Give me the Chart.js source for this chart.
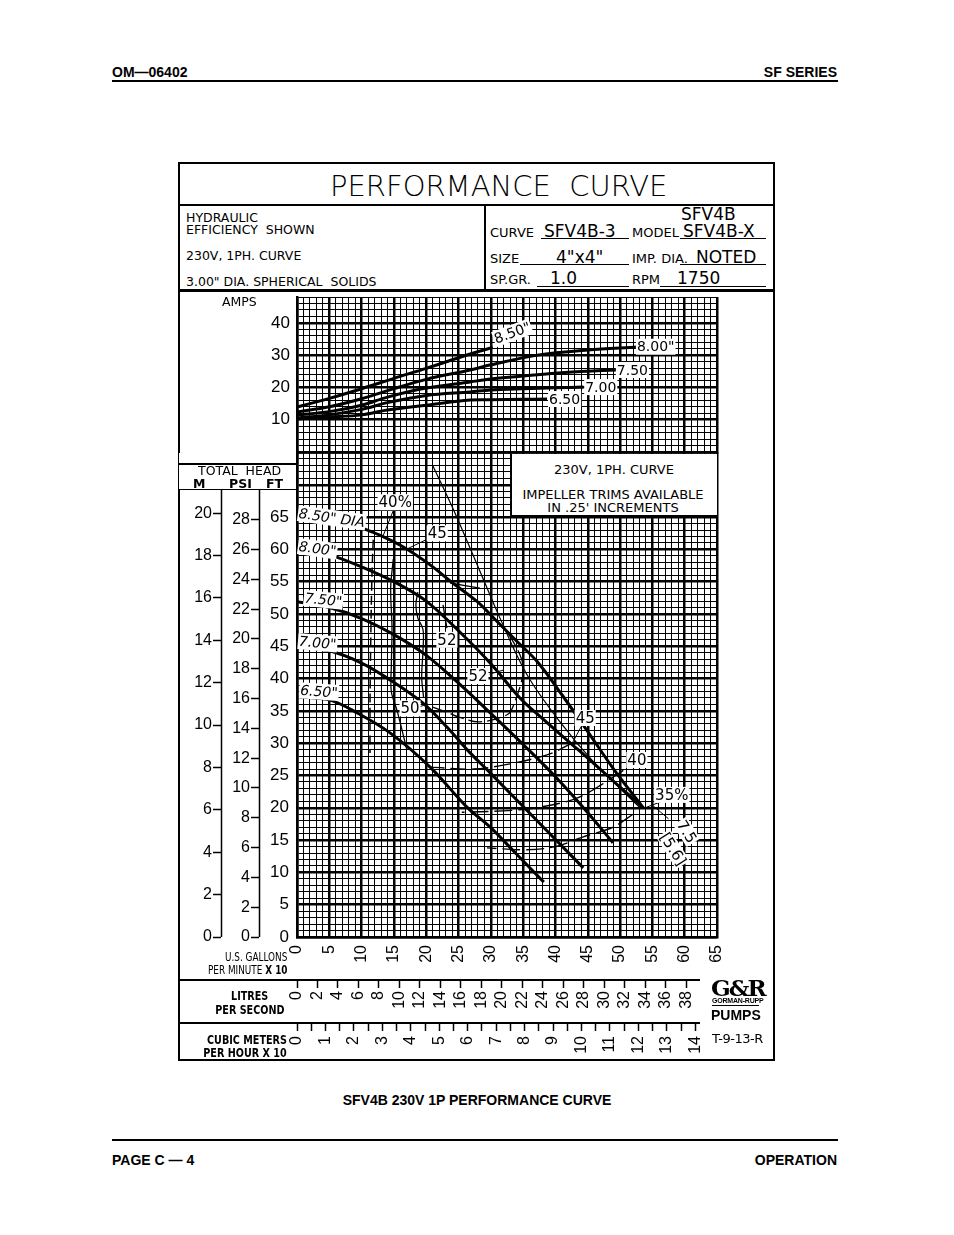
<!DOCTYPE html>
<html>
<head>
<meta charset="utf-8">
<title>SFV4B 230V 1P Performance Curve</title>
<script src="https://cdn.jsdelivr.net/npm/chart.js@4.4.1/dist/chart.umd.min.js"></script>
<style>
  body { margin: 0; width: 954px; height: 1235px; background: #fff; position: relative; overflow: hidden;
         font-family: "DejaVu Sans", sans-serif; color: #000; }
  .a { position: absolute; white-space: nowrap; line-height: 1; }
  .hd { font: bold 14px "Liberation Sans", Arial, sans-serif; }
  .ln { position: absolute; background: #000; }
  .s12 { font-size: 12.5px; }
  .s13 { font-size: 13px; }
  .v16 { font-size: 17px; }
  .nr { transform: scaleX(0.74); transform-origin: right center; }
  canvas { position: absolute; }
</style>
</head>
<body>

<div class="a hd" style="left:112px;top:64px">OM—06402</div>
<div class="a hd" style="right:117px;top:64px">SF SERIES</div>
<div class="ln" style="left:112px;top:80px;width:726px;height:2px"></div>

<!-- outer box -->
<div style="position:absolute;left:178px;top:162px;width:597px;height:899px;border:2px solid #000;box-sizing:border-box"></div>
<div class="a" style="left:330px;top:172px;font-size:29px;font-weight:200">PERFORMANCE&nbsp; CURVE</div>
<div class="ln" style="left:179px;top:204px;width:595px;height:2px"></div>
<div class="ln" style="left:484px;top:205px;width:2px;height:85px"></div>
<div class="ln" style="left:179px;top:289px;width:595px;height:3px"></div>

<!-- info block, left -->
<div class="a s12" style="left:186px;top:212px">HYDRAULIC</div>
<div class="a s12" style="left:186px;top:224px">EFFICIENCY&nbsp; SHOWN</div>
<div class="a s12" style="left:186px;top:250px">230V, 1PH. CURVE</div>
<div class="a s12" style="left:186px;top:276px">3.00" DIA. SPHERICAL&nbsp; SOLIDS</div>

<!-- info block, right -->
<div class="a v16" style="left:681px;top:206px">SFV4B</div>
<div class="a s13" style="left:490px;top:226px">CURVE</div>
<div class="a v16" style="left:544px;top:223px">SFV4B-3</div>
<div class="ln" style="left:541px;top:238px;width:88px;height:1px"></div>
<div class="a s13" style="left:632px;top:226px">MODEL</div>
<div class="a v16" style="left:683px;top:223px">SFV4B-X</div>
<div class="ln" style="left:680px;top:238px;width:86px;height:1px"></div>

<div class="a s13" style="left:490px;top:252px">SIZE</div>
<div class="a v16" style="left:556px;top:249px">4"x4"</div>
<div class="ln" style="left:520px;top:264px;width:109px;height:1px"></div>
<div class="a s13" style="left:632px;top:252px">IMP. DIA.</div>
<div class="a v16" style="left:696px;top:249px">NOTED</div>
<div class="ln" style="left:680px;top:264px;width:86px;height:1px"></div>

<div class="a s13" style="left:490px;top:273px">SP.GR.</div>
<div class="a v16" style="left:550px;top:270px">1.0</div>
<div class="ln" style="left:537px;top:286px;width:92px;height:1px"></div>
<div class="a s13" style="left:632px;top:273px">RPM</div>
<div class="a v16" style="left:677px;top:270px">1750</div>
<div class="ln" style="left:660px;top:286px;width:106px;height:1px"></div>

<canvas id="amps" width="595" height="168" style="left:179px;top:292px"></canvas>
<canvas id="head" width="595" height="615" style="left:179px;top:445px"></canvas>

<div class="a s12" style="left:222px;top:296px">AMPS</div>

<!-- total head column headings -->
<div style="position:absolute;left:179px;top:453px;width:117px;height:36px;background:#fff"></div>
<div class="ln" style="left:179px;top:463px;width:118px;height:2px"></div>
<div class="a s12" style="left:198px;top:465px">TOTAL&nbsp; HEAD</div>
<div class="a s12" style="left:193px;top:478px;font-weight:bold">M</div>
<div class="a s12" style="left:229px;top:478px;font-weight:bold">PSI</div>
<div class="a s12" style="left:266px;top:478px;font-weight:bold">FT</div>
<div class="ln" style="left:179px;top:489px;width:118px;height:1px"></div>

<!-- trim note box -->
<div style="position:absolute;left:510px;top:454px;width:207px;height:63px;background:#fff;border-left:2px solid #000;border-bottom:2px solid #000;box-sizing:border-box"></div>
<div class="a s13" style="left:614px;top:463px;transform:translateX(-50%)">230V, 1PH. CURVE</div>
<div class="a s13" style="left:613px;top:488px;transform:translateX(-50%)">IMPELLER TRIMS AVAILABLE</div>
<div class="a s13" style="left:613px;top:501px;transform:translateX(-50%)">IN .25' INCREMENTS</div>

<!-- scale names -->
<div class="a nr" style="right:667px;top:951px;font-size:12px">U.S. GALLONS</div>
<div class="a nr" style="right:667px;top:964px;font-size:12px">PER MINUTE <b>X 10</b></div>
<div class="a nr" style="right:686px;top:989px;font-size:13px;font-weight:bold">LITRES</div>
<div class="a nr" style="right:670px;top:1003px;font-size:13px;font-weight:bold">PER SECOND</div>
<div class="a nr" style="right:667px;top:1033px;font-size:13px;font-weight:bold">CUBIC METERS</div>
<div class="a nr" style="right:667px;top:1046px;font-size:13px;font-weight:bold">PER HOUR X 10</div>

<!-- logo -->
<div class="a" style="left:711px;top:974px;font:900 23px 'DejaVu Serif',serif;letter-spacing:-2px">G&amp;R</div>
<div class="a" style="left:712px;top:997px;font:bold 7px 'Liberation Sans',sans-serif;letter-spacing:-0.2px">GORMAN-RUPP</div>
<div class="ln" style="left:712px;top:1005px;width:47px;height:1px"></div>
<div class="a" style="left:711px;top:1007px;font:900 14px 'Liberation Sans',sans-serif">PUMPS</div>
<div class="a" style="left:712px;top:1032px;font-size:13px;letter-spacing:-0.5px">T-9-13-R</div>

<div class="a hd" style="left:477px;top:1092px;transform:translateX(-50%)">SFV4B 230V 1P PERFORMANCE CURVE</div>
<div class="ln" style="left:112px;top:1139px;width:726px;height:2px"></div>
<div class="a hd" style="left:112px;top:1152px">PAGE C — 4</div>
<div class="a hd" style="right:117px;top:1152px">OPERATION</div>

<script>
// flow axis: U.S. gallons per minute x 10
const flowMin = 0;
const flowMax = 65;
const headMaxFt = 75;
const ampsMax = 48;

// head (ft) against flow for each impeller trim
const q850 = [0, 5, 10, 12.8, 16.4, 20.6, 24.1, 27.9, 31, 34.1, 37.2, 41, 45, 49, 53.6];
const h850 = [65.3, 64.6, 63.3, 62.2, 60.4, 57.6, 54.8, 51.9, 48.8, 45.7, 42.6, 37.5, 31.8, 26, 20];
const q800 = [0, 5, 10, 15, 20, 25, 30, 34.5, 38, 42, 46, 50, 53.6];
const h800 = [60.4, 59.2, 57.3, 55, 52, 47.4, 42.3, 37, 33.8, 30.3, 26.8, 23.2, 20];
const q750 = [0, 5, 10, 15, 20, 25, 30, 35, 40, 44.5, 48.9];
const h750 = [51.9, 51, 49.3, 46.8, 43.6, 39.3, 34.6, 29.8, 24.8, 19.8, 14.6];
const q700 = [0, 5, 10, 14.4, 19.5, 23.2, 26.8, 29.9, 35, 40, 44.3];
const h700 = [44.9, 44.3, 42.4, 39.8, 36.2, 32.5, 28.5, 25.4, 20.2, 15.1, 10.7];
const q650 = [0, 5, 9.3, 14.4, 20.6, 26.3, 29.9, 34, 38.2];
const h650 = [37.2, 36.7, 34.7, 31.6, 26.3, 20.1, 17, 12.8, 8.5];

// amps against flow
const aq850 = [0, 5, 10, 15, 20, 25, 28.2, 30.3];
const a850 = [13.9, 16.6, 19.6, 22.8, 25.9, 29.2, 31.2, 32.4];
const aq800 = [0, 5, 10, 14, 20, 26.8, 30, 37.2, 45, 52.6];
const a800 = [12.4, 14, 16.5, 19, 22.5, 25.4, 27, 30, 31.6, 32.5];
const aq750 = [0, 5, 10, 14, 20, 26.8, 30, 35, 40, 45, 49.5];
const a750 = [11.5, 12.5, 14.5, 17, 19.8, 21.7, 22.6, 23.5, 24.4, 25, 25.4];
const aq700 = [0, 5, 10, 14, 20, 26.8, 30, 35, 40, 44.3];
const a700 = [10.5, 11.5, 13.2, 15.3, 17.5, 18.6, 19.2, 19.6, 19.9, 20.1];
const aq650 = [0, 5, 10, 14, 20, 26.8, 30, 35, 38.7];
const a650 = [10.2, 10.8, 11.5, 13, 14.5, 16.1, 16.2, 16.3, 16.4];

// efficiency contours, flow vs head (ft)
const e40Lq = [11.8, 11.6, 11.4, 11.3, 11.3];
const e40Lh = [61.5, 56, 45, 36, 28.5];
const e45Lq = [14.9, 14.5, 14.7, 14.6, 14.6, 15.5, 17];
const e45Lh = [58.5, 54, 48, 42, 38, 35, 29];
const e50Lq = [18.7, 18.4, 18.7, 19.5, 19.5, 19.3, 19.6];
const e50Lh = [53.4, 51.4, 49.4, 47.6, 44.4, 40.2, 37];
const e50Rq = [21, 23.2, 25.2, 28.3, 32.5, 33.4, 35, 34.5, 31.9];
const e50Rh = [35.6, 34.8, 34, 33.3, 34.4, 35.6, 40.9, 43.7, 48.3];
const e52aq = [22.6, 23.2];
const e52ah = [51.4, 47.8];
const e52bq = [23.7, 28.3];
const e52bh = [54.8, 54];
const e45Rq = [42.6, 38.7, 31.9, 27.2, 20.6];
const e45Rh = [30, 28.2, 26.6, 26, 26.3];
const e40Rq = [50.5, 47, 43.8, 40.7, 34.5, 25.5];
const e40Rh = [25.8, 23.5, 21.7, 20.7, 19.7, 19.3];
const e35q = [52, 48.9, 44.3, 40, 35.6, 29.4];
const e35h = [19, 17, 15.5, 14, 13.5, 13.8];
// 7.5 hp [5.6 kW] limit
const hpq = [21, 24.1, 27.9, 31.4, 35.6, 40.7, 46, 53.1];
const hph = [73, 66.4, 57.6, 49.4, 40.6, 33.3, 27, 20];

// label leaders
const ld40q = [14.9, 13.2];
const ld40h = [66, 61.8];
const ld45q = [20.6, 16.9];
const ld45h = [61.8, 60];
const ld52q = [29.8, 31.9];
const ld52h = [40.7, 41.3];
const ld50q = [18.9, 20.2];
const ld50h = [35.6, 36.1];
const ld45Rq = [44, 42.6];
const ld45Rh = [32.6, 30];
const ld35q = [56.5, 53.6];
const ld35h = [21, 19.9];
const ldhpq = [57.5, 55];
const ldhph = [18.3, 20.4];

const headNotes = [
  { t: '8.50" DIA', x: 0.3, y: 65.6, rot: 8, font: 'italic 14px "DejaVu Sans"' },
  { t: '8.00"', x: 0.3, y: 60.5, rot: 8, font: 'italic 14px "DejaVu Sans"' },
  { t: '7.50"', x: 1.2, y: 52.5, rot: 6, font: 'italic 14px "DejaVu Sans"' },
  { t: '7.00"', x: 0.3, y: 45.8, rot: 5, font: 'italic 14px "DejaVu Sans"' },
  { t: '6.50"', x: 0.5, y: 38.2, rot: 4, font: 'italic 14px "DejaVu Sans"' },
  { t: '40%', x: 15.2, y: 67.3, align: 'center' },
  { t: '45', x: 21.7, y: 62.5, align: 'center' },
  { t: '52', x: 23.2, y: 46, align: 'center' },
  { t: '52', x: 28, y: 40.4, align: 'center' },
  { t: '50', x: 17.5, y: 35.4, align: 'center' },
  { t: '45', x: 44.6, y: 33.9, align: 'center' },
  { t: '40', x: 52.6, y: 27.4, align: 'center' },
  { t: '35%', x: 58, y: 22, align: 'center' },
  { t: '7.5', x: 60.3, y: 16.3, rot: 58, align: 'center' },
  { t: '[5.6]', x: 58.2, y: 13.6, rot: 58, align: 'center' }
];
const ampNotes = [
  { t: '8.50"', x: 30.6, y: 34.9, rot: -20 },
  { t: '8.00"', x: 52.6, y: 32.6 },
  { t: '7.50', x: 49.5, y: 25.4 },
  { t: '7.00', x: 44.6, y: 20.1 },
  { t: '6.50', x: 39, y: 16.4 }
];

const pts = (xs, ys) => xs.map((x, i) => ({ x, y: ys[i] }));
const line = (xs, ys, w, dash) => ({
  data: pts(xs, ys), borderColor: '#000', borderWidth: w, borderDash: dash || [],
  pointRadius: 0, tension: 0.35, fill: false
});
const isMult = (v, n) => Math.abs(v / n - Math.round(v / n)) < 1e-6;
const gridW = n => c => (c.tick && isMult(c.tick.value, n)) ? 2.5 : 1;
const upTo = lim => c => (c.tick && c.tick.value <= lim + 1e-6) ? '#000' : 'rgba(0,0,0,0)';
const tickFont = { family: '"Liberation Sans", Arial, sans-serif', size: 16 };

const notePlugin = {
  id: 'notes',
  afterDatasetsDraw(chart, args, opts) {
    const { ctx, scales } = chart;
    (opts.items || []).forEach(n => {
      ctx.save();
      ctx.translate(scales.x.getPixelForValue(n.x), scales.y.getPixelForValue(n.y));
      ctx.rotate((n.rot || 0) * Math.PI / 180);
      ctx.font = n.font || opts.font;
      ctx.textBaseline = 'middle';
      ctx.textAlign = n.align || 'left';
      const w = ctx.measureText(n.t).width;
      const x0 = n.align === 'center' ? -w / 2 : 0;
      ctx.fillStyle = '#fff';
      ctx.fillRect(x0 - 1, -8, w + 2, 16);
      ctx.fillStyle = '#000';
      ctx.fillText(n.t, 0, 1);
      ctx.restore();
    });
  }
};

const framePlugin = {
  id: 'frame',
  afterDraw(chart) {
    const { ctx, scales, chartArea } = chart;
    ctx.save();
    ctx.strokeStyle = '#000';
    ctx.lineWidth = 1.5;
    ctx.beginPath();
    [scales.psi.right, scales.m.right].forEach(x => {
      ctx.moveTo(Math.round(x) + 0.5, 33);
      ctx.lineTo(Math.round(x) + 0.5, chartArea.bottom);
    });
    ctx.stroke();
    ctx.lineWidth = 2;
    ctx.beginPath();
    [scales.lps.top, scales.cmh.top].forEach(y => {
      ctx.moveTo(0, Math.round(y));
      ctx.lineTo(521, Math.round(y));
    });
    ctx.stroke();
    ctx.restore();
  }
};

const sideAxis = (weight, max, step, lim, width) => ({
  type: 'linear', position: 'left', weight, min: 0, max,
  ticks: { stepSize: step, autoSkip: false, maxTicksLimit: 1000, color: '#000', font: tickFont, padding: 1,
           callback: v => v <= lim + 1e-6 ? v : '' },
  grid: { drawOnChartArea: false, drawTicks: true, tickLength: 8, tickWidth: 1.5, tickColor: upTo(lim) },
  border: { display: false },
  afterFit: s => { s.width = width; s.paddingTop = 0; s.paddingBottom = 0; }
});

const bottomAxis = (weight, max, step, lim, height, labelEvery, tl, pad) => ({
  type: 'linear', position: 'bottom', weight, min: 0, max,
  ticks: { stepSize: step, autoSkip: false, maxTicksLimit: 1000, minRotation: 90, maxRotation: 90,
           color: '#000', font: tickFont, padding: pad,
           callback: v => (v <= lim + 1e-6 && isMult(v, labelEvery)) ? v : '' },
  grid: { drawOnChartArea: false, drawTicks: true, tickLength: tl, tickWidth: 1.5, tickColor: upTo(lim) },
  border: { display: false },
  afterFit: s => { s.height = height; s.paddingLeft = 0; s.paddingRight = 0; }
});

new Chart(document.getElementById('head'), {
  type: 'line',
  data: {
    datasets: [
      line(q850, h850, 3), line(q800, h800, 3), line(q750, h750, 3), line(q700, h700, 3), line(q650, h650, 3),
      line(e40Lq, e40Lh, 1.5, [9, 5]), line(e45Lq, e45Lh, 1.3), line(e50Lq, e50Lh, 1.3),
      line(e50Rq, e50Rh, 1.3, [14, 5]), line(e52aq, e52ah, 1.3), line(e52bq, e52bh, 1.3),
      line(e45Rq, e45Rh, 1.4, [16, 6]), line(e40Rq, e40Rh, 1.4, [18, 6]), line(e35q, e35h, 1.4, [18, 6]),
      line(hpq, hph, 1.2),
      line(ld40q, ld40h, 1), line(ld45q, ld45h, 1), line(ld52q, ld52h, 1), line(ld50q, ld50h, 1),
      line(ld45Rq, ld45Rh, 1), line(ld35q, ld35h, 1), line(ldhpq, ldhph, 1)
    ]
  },
  options: {
    responsive: false, animation: false, events: [],
    layout: { padding: { top: 7.5, right: 57, left: 0, bottom: 0 } },
    plugins: { legend: { display: false }, tooltip: { enabled: false },
               notes: { items: headNotes, font: '15px "DejaVu Sans"' } },
    scales: {
      x: {
        type: 'linear', position: 'bottom', weight: 0, min: flowMin, max: flowMax,
        ticks: { stepSize: 1, autoSkip: false, maxTicksLimit: 1000, minRotation: 90, maxRotation: 90,
                 color: '#000', font: tickFont, padding: 8, callback: v => isMult(v, 5) ? v : '' },
        grid: { color: '#000', lineWidth: gridW(5), drawTicks: false },
        border: { color: '#000', width: 2.5 },
        afterFit: s => { s.height = 43; s.paddingLeft = 0; s.paddingRight = 0; }
      },
      lps: bottomAxis(1, flowMax * 0.6309, 2, 38, 43, 2, 8, 3),
      cmh: bottomAxis(2, flowMax * 0.22712, 0.5, 14, 37, 1, 8, 5),
      y: {
        type: 'linear', position: 'left', weight: 0, min: 0, max: headMaxFt,
        ticks: { stepSize: 1, autoSkip: false, maxTicksLimit: 1000, color: '#000',
                 font: { family: tickFont.family, size: 17 }, padding: 8,
                 callback: v => (isMult(v, 5) && v <= 65) ? v : '' },
        grid: { color: '#000', lineWidth: gridW(5), drawTicks: false },
        border: { color: '#000', width: 2.5 },
        afterFit: s => { s.width = 38; s.paddingTop = 0; s.paddingBottom = 0; }
      },
      psi: sideAxis(1, headMaxFt / 2.3067, 2, 28, 38),
      m: sideAxis(2, headMaxFt * 0.3048, 2, 20, 42)
    }
  },
  plugins: [notePlugin, framePlugin]
});

new Chart(document.getElementById('amps'), {
  type: 'line',
  data: {
    datasets: [
      line(aq850, a850, 3), line(aq800, a800, 3), line(aq750, a750, 3), line(aq700, a700, 3), line(aq650, a650, 3)
    ]
  },
  options: {
    responsive: false, animation: false, events: [],
    layout: { padding: { top: 5, right: 57, left: 0, bottom: 8 } },
    plugins: { legend: { display: false }, tooltip: { enabled: false },
               notes: { items: ampNotes, font: '14px "DejaVu Sans"' } },
    scales: {
      x: {
        type: 'linear', min: flowMin, max: flowMax,
        ticks: { display: false, stepSize: 1, maxTicksLimit: 1000 },
        grid: { color: '#000', lineWidth: gridW(5), drawTicks: false },
        border: { color: '#000', width: 2.5 },
        afterFit: s => { s.height = 0; s.paddingLeft = 0; s.paddingRight = 0; }
      },
      y: {
        type: 'linear', position: 'left', min: 0, max: ampsMax,
        ticks: { stepSize: 2, autoSkip: false, maxTicksLimit: 1000, color: '#000',
                 font: { family: tickFont.family, size: 17 }, padding: 7,
                 callback: v => (isMult(v, 10) && v > 0 && v <= 40) ? v : '' },
        grid: { color: '#000', lineWidth: gridW(10), drawTicks: false },
        border: { color: '#000', width: 2.5 },
        afterFit: s => { s.width = 118; s.paddingTop = 0; s.paddingBottom = 0; }
      }
    }
  },
  plugins: [notePlugin]
});
</script>
</body>
</html>
